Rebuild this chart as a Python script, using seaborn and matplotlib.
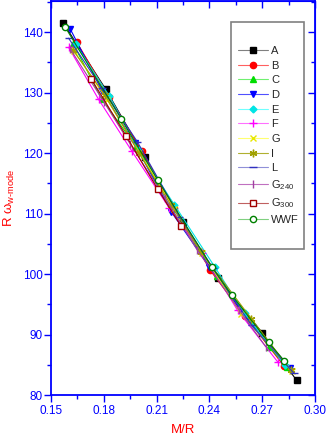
import numpy as np
import pandas as pd
import matplotlib
matplotlib.use("Agg")
import matplotlib.pyplot as plt
import seaborn as sns
from matplotlib.ticker import MultipleLocator
from matplotlib.patches import Rectangle

sns.set_style("ticks")
plt.rcParams['font.family'] = ['Liberation Sans', 'DejaVu Sans']
plt.rcParams['mathtext.fontset'] = 'custom'
plt.rcParams['mathtext.rm'] = 'Liberation Sans'
plt.rcParams['mathtext.it'] = 'Liberation Sans'
plt.rcParams['mathtext.sf'] = 'Liberation Sans'

# ---- data ----
A_x = [0.157, 0.181, 0.2032, 0.2249, 0.2447, 0.2700, 0.2896]
A_y = [141.5, 130.6, 119.4, 108.6, 99.3, 90.3, 82.4]
B_x = [0.1645, 0.183, 0.2015, 0.220, 0.2405, 0.2600, 0.2824]
B_y = [138.4, 129.3, 120.3, 111.0, 100.6, 93.1, 84.8]
C_x = [0.1626, 0.1787, 0.1985, 0.2185, 0.2445, 0.2740, 0.2840]
C_y = [138.1, 129.0, 121.0, 110.7, 99.6, 88.0, 84.6]
D_x = [0.1608, 0.1790, 0.1975, 0.2183, 0.2400, 0.2626, 0.2860]
D_y = [140.6, 130.3, 121.6, 110.3, 101.2, 92.1, 84.5]
E_x = [0.1640, 0.1830, 0.2000, 0.2200, 0.2430, 0.2600, 0.2830]
E_y = [138.0, 129.5, 120.5, 111.5, 101.2, 93.5, 84.9]
F_x = [0.1600, 0.1770, 0.1960, 0.2170, 0.2360, 0.2560, 0.2790]
F_y = [137.5, 128.9, 120.3, 111.0, 103.5, 94.0, 85.4]
G_x = [0.1630, 0.1820, 0.2000, 0.2200, 0.2360, 0.2580, 0.2870]
G_y = [136.9, 128.8, 120.2, 110.8, 103.5, 93.4, 84.0]
I_x = [0.1626, 0.1806, 0.2000, 0.2180, 0.2353, 0.2639, 0.2862]
I_y = [137.0, 129.6, 120.0, 111.5, 103.6, 92.6, 84.1]
L_x = [0.1600, 0.1790, 0.1990, 0.2230, 0.2420, 0.2640, 0.2880]
L_y = [139.0, 130.7, 121.9, 109.5, 101.0, 91.5, 83.6]
G240_x = [0.1610, 0.1800, 0.1950, 0.2150, 0.2330, 0.2570, 0.2720]
G240_y = [137.2, 128.5, 121.5, 112.5, 104.0, 94.0, 88.0]
G300_x = [0.1730, 0.1928, 0.2107, 0.2240]
G300_y = [132.2, 122.8, 114.0, 107.9]
WWF_x = [0.1579, 0.1900, 0.2107, 0.2415, 0.2528, 0.2736, 0.2824]
WWF_y = [140.9, 125.6, 115.5, 101.1, 96.5, 88.7, 85.7]

labels = ["A", "B", "C", "D", "E", "F", "G", "I", "L",
          r"G$_{240}$", r"G$_{300}$", "WWF"]
xs = [A_x, B_x, C_x, D_x, E_x, F_x, G_x, I_x, L_x, G240_x, G300_x, WWF_x]
ys = [A_y, B_y, C_y, D_y, E_y, F_y, G_y, I_y, L_y, G240_y, G300_y, WWF_y]

styles = [
    dict(color="#000000", line="#808080", marker="s", mfc="#000000", ms=4.5),
    dict(color="#ff0000", line="#ff6060", marker="o", mfc="#ff0000", ms=4.5),
    dict(color="#00dd00", line="#70f070", marker="^", mfc="#00dd00", ms=4.5),
    dict(color="#0000ff", line="#5050ff", marker="v", mfc="#0000ff", ms=4.5),
    dict(color="#00e5e5", line="#70ffff", marker="D", mfc="#00e5e5", ms=3.5),
    dict(color="#ff00ff", line="#ff70ff", marker="+", mfc="#ff00ff", ms=5.5),
    dict(color="#e8e800", line="#ffff70", marker="x", mfc="#e8e800", ms=4.5),
    dict(color="#a0a000", line="#b0b030", marker=(6, 2, 0), mfc="#a0a000", ms=5.5),
    dict(color="#3030c0", line="#9090d8", marker="_", mfc="#3030c0", ms=5.5),
    dict(color="#a040a0", line="#c070c0", marker="|", mfc="#a040a0", ms=5.5),
    dict(color="#a00000", line="#c06060", marker="s", mfc="white", ms=4.5),
    dict(color="#008000", line="#80d080", marker="o", mfc="white", ms=4.5),
]

frames = []
for lab, x, y in zip(labels, xs, ys):
    frames.append(pd.DataFrame({"MR": x, "Rw": y, "eos": lab}))
df = pd.concat(frames, ignore_index=True)

fig = plt.figure(figsize=(3.27, 4.36), dpi=100)
ax = fig.add_axes([51/327, 1 - 395/436, (315-51)/327, (395-1)/436])

for lab, st in zip(labels, styles):
    sub = df[df["eos"] == lab]
    sns.lineplot(data=sub, x="MR", y="Rw", ax=ax, color=st["color"], lw=0.8,
                 marker=st["marker"], markersize=st["ms"],
                 markerfacecolor=st["mfc"], markeredgecolor=st["color"],
                 markeredgewidth=1.0, label=lab, sort=False, estimator=None)

ax.set_xlim(0.15, 0.30)
ax.set_ylim(80, 145.15)
ax.xaxis.set_major_locator(MultipleLocator(0.03))
ax.xaxis.set_minor_locator(MultipleLocator(0.015))
ax.yaxis.set_major_locator(MultipleLocator(10))
ax.yaxis.set_minor_locator(MultipleLocator(5))
ax.set_xticks(ax.get_xticks())
ax.set_xticklabels([f"{v:.2f}" for v in ax.get_xticks()])
ax.set_xlim(0.15, 0.30)

blue = "#0000ff"
for s in ax.spines.values():
    s.set_visible(True)
    s.set_color(blue)
    s.set_linewidth(1.3)
ax.tick_params(which="both", colors=blue, labelcolor=blue, labelsize=8.5,
               width=1.0, direction="out", top=False, right=False)
ax.tick_params(which="major", length=5)
ax.tick_params(which="minor", length=3)
ax.tick_params(axis="x", pad=2)
ax.tick_params(axis="y", pad=1)

# mirrored inward ticks on top/right
axt = ax.secondary_xaxis("top")
axt.xaxis.set_major_locator(MultipleLocator(0.03))
axt.xaxis.set_minor_locator(MultipleLocator(0.015))
axt.tick_params(which="both", direction="in", colors=blue, labeltop=False, width=1.0)
axt.tick_params(which="major", length=5)
axt.tick_params(which="minor", length=3)
axt.spines["top"].set_color(blue)
axr = ax.secondary_yaxis("right")
axr.yaxis.set_major_locator(MultipleLocator(10))
axr.yaxis.set_minor_locator(MultipleLocator(5))
axr.tick_params(which="both", direction="in", colors=blue, labelright=False, width=1.0)
axr.tick_params(which="major", length=5)
axr.tick_params(which="minor", length=3)
axr.spines["right"].set_color(blue)

ax.set_xlabel("M/R", color="red", fontsize=9.5, labelpad=5)
ax.set_ylabel(r"R $\omega_{\mathrm{w}\text{-}\mathrm{mode}}$", color="red",
              fontsize=9.5, labelpad=4)

# legend frame drawn as a rectangle in figure coordinates
ax.add_patch(Rectangle((231/327, 1 - 249/436), (304-231)/327, (249-22)/436,
                       transform=fig.transFigure, facecolor="white",
                       edgecolor="#808080", lw=1.2, zorder=4, clip_on=False))

leg = ax.legend(loc="upper left", bbox_to_anchor=(238/327, 1 - 46/436),
                bbox_transform=fig.transFigure,
                frameon=False, fontsize=8,
                handlelength=2.7, handletextpad=0.3, borderaxespad=0,
                borderpad=0, labelspacing=0.42)
leg.set_zorder(6)
for h, st in zip(leg.legend_handles, styles):
    h.set_color(st["line"])
    h.set_markeredgecolor(st["color"])
    h.set_markerfacecolor(st["mfc"])

fig.savefig("out.png", dpi=100)
